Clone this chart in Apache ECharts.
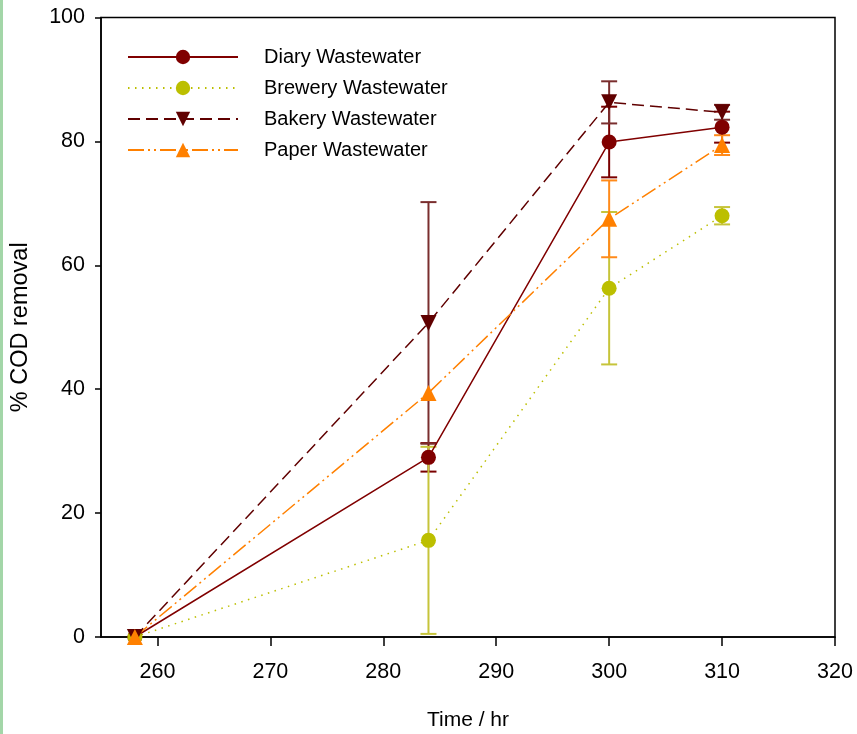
<!DOCTYPE html>
<html>
<head>
<meta charset="utf-8">
<script src="https://cdn.jsdelivr.net/npm/echarts@6/dist/echarts.min.js"></script>
<style>
html, body { margin: 0; padding: 0; background: #fff; }
#chart { width: 857px; height: 734px; }
#edge { position: absolute; left: 0; top: 0; width: 3px; height: 734px; background: #a3d6a8; }
</style>
</head>
<body>
<div id="chart"></div>
<div id="edge"></div>
<script>
// Sampling times (hr) and % COD removal with standard deviations
const timeHr = [258, 284, 300, 310];
const diary = [0, 29.0, 79.9, 82.3];
const diaryErr = [0, 2.3, 5.7, 2.5];
const brewery = [0, 15.6, 56.3, 68.0];
const breweryErr = [0, 15.1, 12.3, 1.4];
const bakery = [0, 50.7, 86.3, 84.7];
const bakeryErr = [0, 19.5, 3.4, 1.2];
const paper = [0, 39.4, 67.5, 79.4];
const paperErr = [0, 0, 6.2, 1.6];
const xTicks = [260, 270, 280, 290, 300, 310, 320];
const seriesNames = ['Diary Wastewater', 'Brewery Wastewater', 'Bakery Wastewater', 'Paper Wastewater'];

const FONT = 'Liberation Sans, Arial, sans-serif';

function errorBars(name, values, errs, color) {
  return {
    type: 'custom',
    name: name + ' SD',
    silent: true,
    z: 2,
    data: timeHr
      .map((t, i) => [t, values[i] - errs[i], values[i] + errs[i], errs[i]])
      .filter(d => d[3] > 0),
    encode: { x: 0, y: [1, 2] },
    renderItem(params, api) {
      const lo = api.coord([api.value(0), api.value(1)]);
      const hi = api.coord([api.value(0), api.value(2)]);
      const half = 8;
      const style = { stroke: color, lineWidth: 2 };
      return {
        type: 'group',
        children: [
          { type: 'line', shape: { x1: lo[0], y1: lo[1], x2: hi[0], y2: hi[1] }, style },
          { type: 'line', shape: { x1: hi[0] - half, y1: hi[1], x2: hi[0] + half, y2: hi[1] }, style },
          { type: 'line', shape: { x1: lo[0] - half, y1: lo[1], x2: lo[0] + half, y2: lo[1] }, style }
        ]
      };
    }
  };
}

function lineSeries(name, values, color, symbol, size, rotate, dash) {
  return {
    type: 'line',
    name,
    data: timeHr.map((t, i) => [t, values[i]]),
    symbol,
    symbolSize: size,
    symbolRotate: rotate,
    showAllSymbol: true,
    lineStyle: { color, width: 1.5, type: dash },
    itemStyle: { color, borderWidth: 0 },
    z: 3
  };
}

const chart = echarts.init(document.getElementById('chart'));
chart.setOption({
  animation: false,
  backgroundColor: '#fff',
  grid: {
    left: 101, right: 22, top: 17.5, bottom: 97,
    outerBoundsMode: 'none',
    containLabel: false,
    show: true, borderColor: '#000', borderWidth: 1.5, backgroundColor: 'transparent'
  },
  legend: {
    data: seriesNames,
    orient: 'vertical',
    left: 122,
    top: 42,
    itemWidth: 110,
    itemHeight: 18,
    itemGap: 11,
    textStyle: { fontFamily: FONT, fontSize: 20, color: '#000', padding: [0, 0, 0, 21] }
  },
  xAxis: {
    type: 'value',
    min: 255,
    max: 320,
    interval: 5,
    name: 'Time / hr',
    nameLocation: 'middle',
    nameGap: 73,
    nameTextStyle: { fontFamily: FONT, fontSize: 21, color: '#000' },
    axisLine: { show: true, lineStyle: { color: '#000', width: 1.5 } },
    axisTick: { show: true, length: 9, customValues: xTicks, lineStyle: { color: '#000', width: 1.5 } },
    axisLabel: { customValues: xTicks, margin: 24, fontFamily: FONT, fontSize: 21.5, color: '#000' },
    splitLine: { show: false }
  },
  yAxis: {
    type: 'value',
    min: 0,
    max: 100,
    interval: 20,
    name: '% COD removal',
    nameLocation: 'middle',
    nameGap: 68,
    nameTextStyle: { fontFamily: FONT, fontSize: 23.5, color: '#000' },
    axisLine: { show: true, lineStyle: { color: '#000', width: 1.5 } },
    axisTick: { show: true, length: 6, lineStyle: { color: '#000', width: 1.5 } },
    axisLabel: { margin: 16, fontFamily: FONT, fontSize: 21.5, color: '#000' },
    splitLine: { show: false }
  },
  series: [
    errorBars(seriesNames[0], diary, diaryErr, '#7a0000'),
    errorBars(seriesNames[1], brewery, breweryErr, '#c6c43a'),
    errorBars(seriesNames[2], bakery, bakeryErr, '#7a2e2e'),
    errorBars(seriesNames[3], paper, paperErr, '#ff8a1a'),
    lineSeries(seriesNames[0], diary, '#800000', 'circle', 15, 0, 'solid'),
    lineSeries(seriesNames[1], brewery, '#bcbf00', 'circle', 15, 0, [1.5, 5.5]),
    lineSeries(seriesNames[2], bakery, '#600000', 'triangle', 16, 180, [12, 6]),
    lineSeries(seriesNames[3], paper, '#ff8000', 'triangle', 16, 0, [16, 4, 2, 4, 2, 4])
  ]
});
</script>
</body>
</html>
